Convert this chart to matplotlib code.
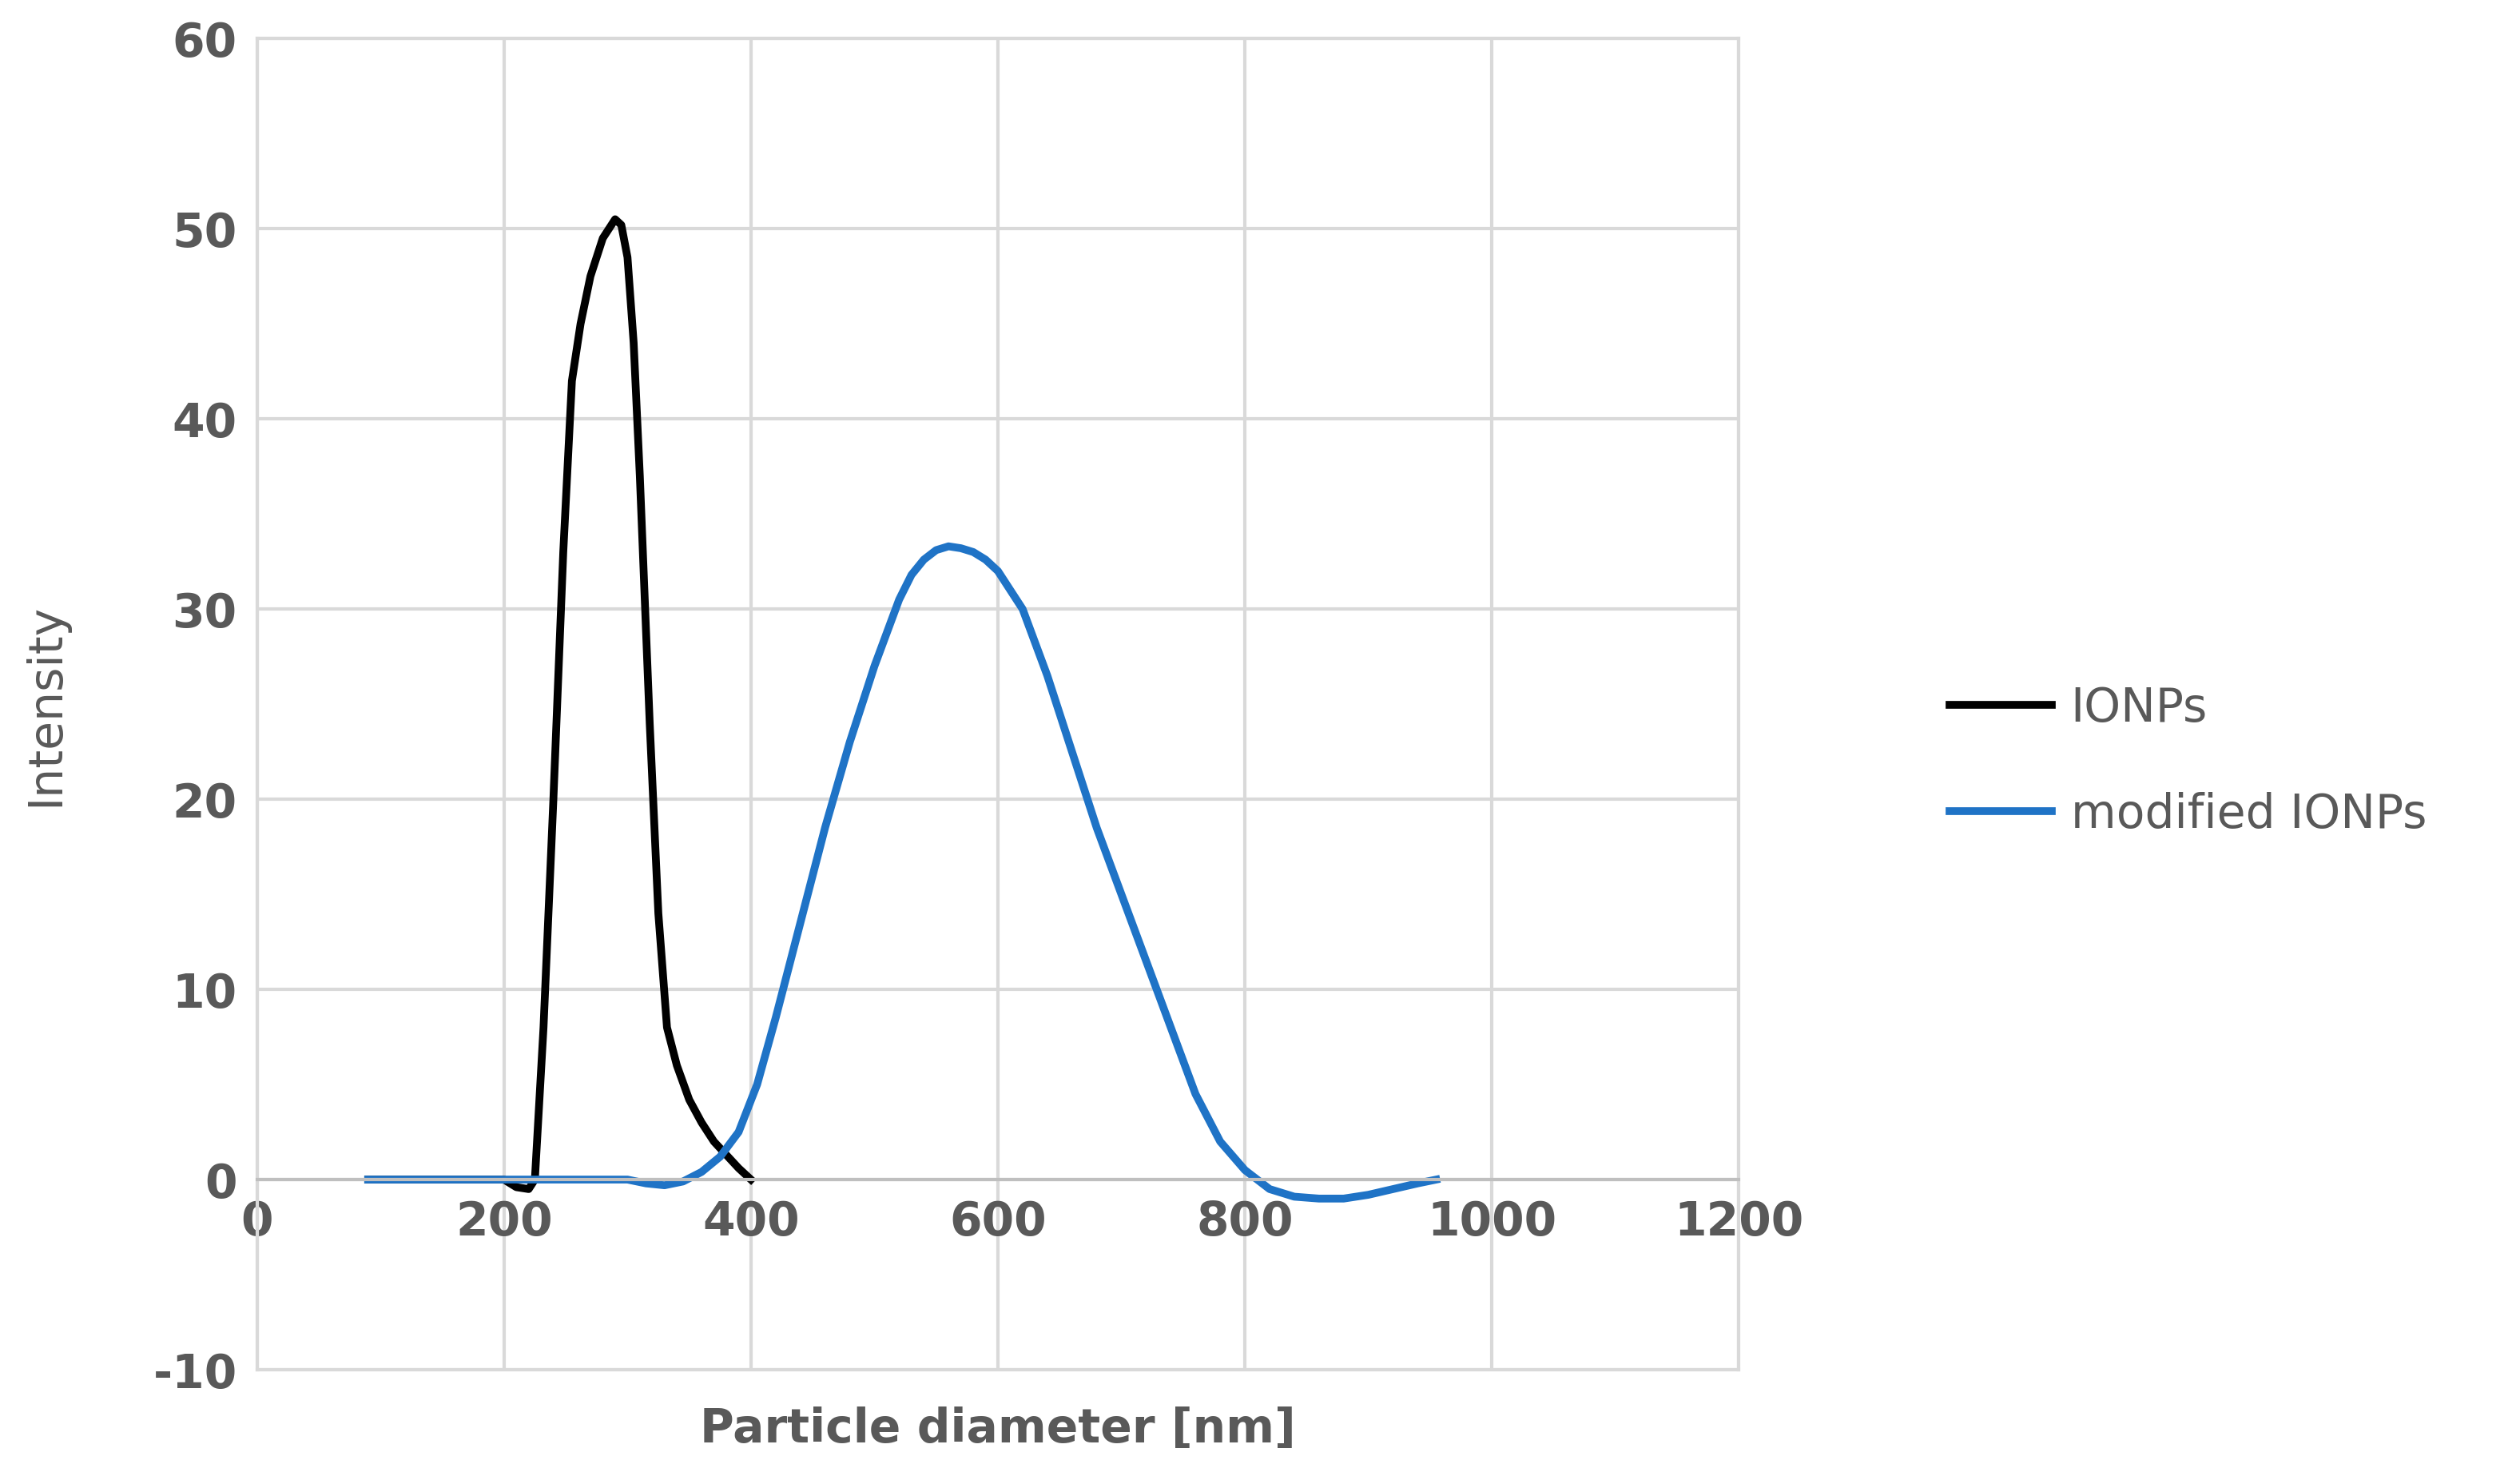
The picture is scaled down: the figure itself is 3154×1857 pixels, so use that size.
import matplotlib
matplotlib.use("Agg")
import matplotlib.pyplot as plt
plt.rcParams["axes.unicode_minus"] = False

ionp_x = [90, 150, 200, 210, 220, 225, 232, 240, 248, 255, 262, 270, 280, 290, 295, 300, 305, 310, 318, 325, 332, 340, 350, 360, 370, 380, 390, 400]
ionp_y = [0, 0, 0, -0.4, -0.5, 0, 8, 20, 33, 42, 45, 47.5, 49.5, 50.5, 50.2, 48.5, 44, 37, 24, 14, 8, 6, 4.2, 3, 2, 1.3, 0.6, 0]

mod_x = [90, 200, 300, 315, 330, 345, 360, 375, 390, 405, 420, 440, 460, 480, 500, 520, 530, 540, 550, 560, 570, 580, 590, 600, 620, 640, 660, 680, 700, 720, 740, 760, 780, 800, 820, 840, 860, 880, 900, 920, 940, 955]
mod_y = [0, 0, 0, -0.2, -0.3, -0.1, 0.4, 1.2, 2.5, 5, 8.5, 13.5, 18.5, 23, 27, 30.5, 31.8, 32.6, 33.1, 33.3, 33.2, 33.0, 32.6, 32, 30, 26.5, 22.5, 18.5, 15, 11.5, 8, 4.5, 2, 0.5, -0.5, -0.9, -1, -1, -0.8, -0.5, -0.2, 0]

xticks = [0, 200, 400, 600, 800, 1000, 1200]
yticks = [-10, 0, 10, 20, 30, 40, 50, 60]

fig = plt.figure(figsize=(31.54, 18.57), dpi=100)
ax = fig.add_axes([0.102, 0.077, 0.588, 0.897])
ax.plot(ionp_x, ionp_y, color="black", lw=7, label="IONPs", solid_joinstyle="round")
ax.plot(mod_x, mod_y, color="#1f73c6", lw=7, label="modified IONPs", solid_joinstyle="round")
ax.set_xlim(0, 1200)
ax.set_ylim(-10, 60)
ax.set_xticks(xticks)
ax.set_yticks(yticks)
ax.grid(True, color="#d9d9d9", lw=3)
ax.set_axisbelow(True)
for s in ax.spines.values():
    s.set_color("#d9d9d9"); s.set_linewidth(3)
ax.spines["bottom"].set_position(("data", 0))
ax.spines["bottom"].set_color("#bfbfbf")
ax.axhline(-10, color="#d9d9d9", lw=3, clip_on=False, zorder=0)
ax.tick_params(length=0, labelsize=42, labelcolor="#595959", pad=18)
for t in ax.get_xticklabels() + ax.get_yticklabels():
    t.set_fontweight("bold")
fig.text(0.396, 0.037, "Particle diameter [nm]", fontsize=42, fontweight="bold", color="#595959", ha="center", va="center")
fig.text(0.018, 0.525, "Intensity", fontsize=42, color="#595959", rotation=90, ha="center", va="center")
fig.legend(loc="center left", bbox_to_anchor=(0.757, 0.487), frameon=False, fontsize=42,
           labelcolor="#595959", handlelength=2.2, labelspacing=1.3, handletextpad=0.4)
fig.savefig("out.png", dpi=100)
